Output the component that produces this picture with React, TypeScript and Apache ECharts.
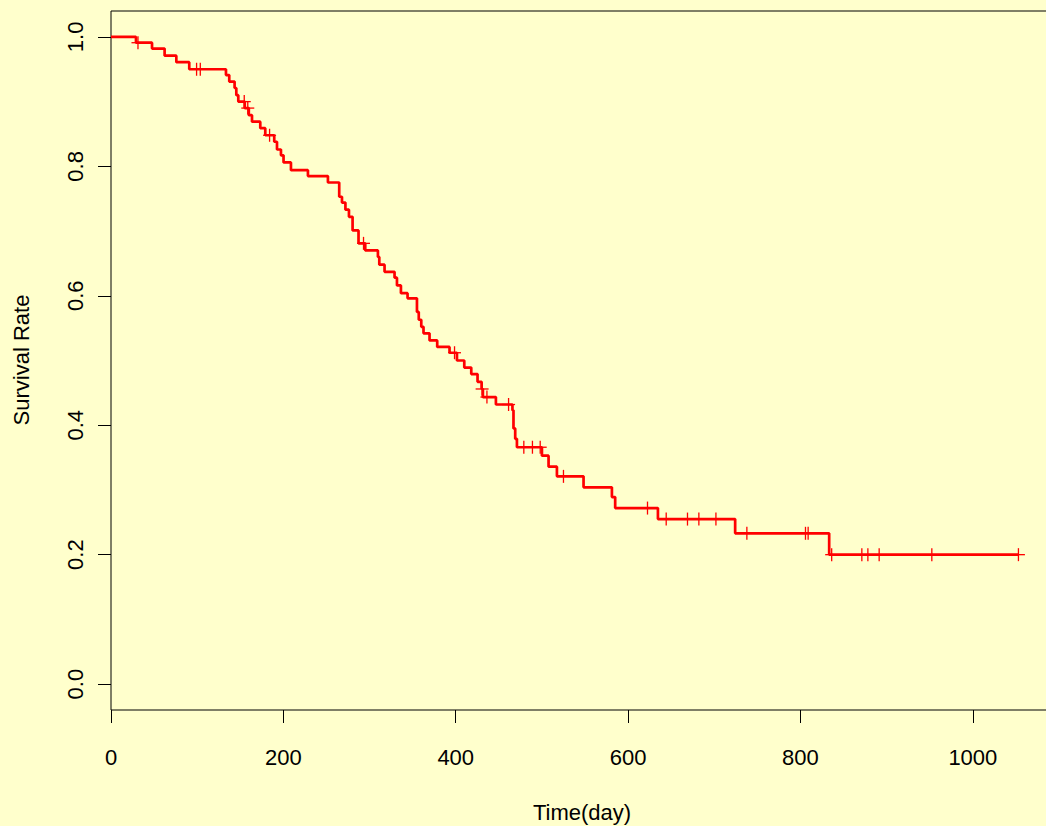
import React, { useEffect, useRef } from "react";
import * as echarts from "echarts";

// Kaplan-Meier step curve: event times (days) and survival after each event
const eventTimes = [
  0, 29, 47.6, 62.2, 75.8, 90.8, 133.4, 137.2, 143.4, 145.4, 147.7, 155.2, 159.9,
  163.6, 173.2, 179, 189.4, 192.6, 197.2, 200.2, 208.8, 228.5, 251.7, 264.8, 268,
  272, 276.1, 280.3, 287.2, 295, 309.7, 311.3, 317.4, 329, 331.8, 336.4, 344.1,
  355, 357.1, 360, 362.6, 369.6, 378.5, 392.8, 401.4, 409.9, 418, 425.3, 430,
  431.5, 446.6, 465.8, 467, 469, 471, 500, 507.7, 517.4, 548.3, 581.2, 585, 634.6,
  724.2, 833.3, 1052.9,
];
const eventSurv = [
  1.0, 0.991, 0.982, 0.971, 0.961, 0.95, 0.941, 0.931, 0.921, 0.91, 0.9, 0.89, 0.879,
  0.869, 0.859, 0.848, 0.838, 0.826, 0.817, 0.806, 0.794, 0.785, 0.775, 0.753, 0.744,
  0.733, 0.722, 0.701, 0.681, 0.67, 0.66, 0.648, 0.637, 0.628, 0.616, 0.604, 0.596,
  0.575, 0.563, 0.552, 0.542, 0.531, 0.521, 0.512, 0.5, 0.489, 0.479, 0.467, 0.456,
  0.4435, 0.432, 0.423, 0.395, 0.379, 0.366, 0.353, 0.336, 0.321, 0.304, 0.289, 0.272, 0.255,
  0.233, 0.2, 0.2,
];
// censored observation times (days)
const censorTimes = [
  31.3, 99.3, 103.6, 154.6, 158.7, 184, 293, 398.6, 430.6, 436.2, 461.3, 479, 489,
  498, 525, 622.5, 644.2, 668.9, 682.1, 701.9, 737.8, 805.8, 808.9, 836.2, 871.2,
  878.2, 891.3, 952.4, 1052.9,
];
const xTicks = [0, 200, 400, 600, 800, 1000];
const yTicks = [0, 0.2, 0.4, 0.6, 0.8, 1.0];
const xTitle = "Time(day)";
const yTitle = "Survival Rate";

const FONT = "'Liberation Sans', Arial, Helvetica, sans-serif";

function survAt(t: number): number {
  let s = eventSurv[0];
  for (let i = 0; i < eventTimes.length; i++) {
    if (eventTimes[i] <= t) s = eventSurv[i];
    else break;
  }
  return s;
}

export default function App() {
  const ref = useRef<HTMLDivElement>(null);
  useEffect(() => {
    if (!ref.current) return;
    const chart = echarts.init(ref.current, undefined, { renderer: "svg" });
    const stepData = eventTimes.map((t, i) => [t, eventSurv[i]]);
    const censorData = censorTimes.map((t) => [t, survAt(t)]);
    chart.setOption({
      animation: false,
      backgroundColor: "#FFFFCC",
      textStyle: { fontFamily: FONT },
      grid: {
        left: 111,
        top: 11,
        width: 942,
        height: 699,
        show: true,
        borderColor: "#000",
        borderWidth: 1,
        backgroundColor: "transparent",
        containLabel: false,
        outerBoundsMode: "none",
      },
      xAxis: {
        type: "value",
        min: 0,
        max: 1093,
        axisLine: { show: false, onZero: false },
        splitLine: { show: false },
        axisTick: {
          show: true,
          length: 13,
          customValues: xTicks,
          lineStyle: { color: "#000", width: 1 },
        },
        axisLabel: {
          customValues: xTicks,
          margin: 36,
          fontSize: 22,
          color: "#000",
          fontFamily: FONT,
          formatter: (v: number) => String(v),
        },
      },
      yAxis: {
        type: "value",
        min: -0.04,
        max: 1.04,
        axisLine: { show: false, onZero: false },
        splitLine: { show: false },
        axisTick: {
          show: true,
          length: 13,
          customValues: yTicks,
          lineStyle: { color: "#000", width: 1 },
        },
        axisLabel: {
          customValues: yTicks,
          rotate: 90,
          margin: 25,
          fontSize: 22,
          color: "#000",
          fontFamily: FONT,
          formatter: (v: number) => v.toFixed(1),
        },
      },
      graphic: [
        {
          type: "text",
          x: 21,
          y: 360,
          rotation: Math.PI / 2,
          style: {
            text: yTitle,
            font: `22px ${FONT}`,
            fill: "#000",
            align: "center",
            verticalAlign: "middle",
          },
        },
        {
          type: "text",
          x: 582,
          y: 812,
          style: {
            text: xTitle,
            font: `22px ${FONT}`,
            fill: "#000",
            align: "center",
            verticalAlign: "middle",
          },
        },
      ],
      series: [
        {
          type: "line",
          step: "end",
          data: stepData,
          showSymbol: false,
          symbol: "none",
          lineStyle: { color: "#FF0000", width: 2.7 },
          silent: true,
        },
        {
          type: "custom",
          data: censorData,
          silent: true,
          clip: false,
          renderItem: (params: any, api: any) => {
            const p = api.coord([api.value(0), api.value(1)]);
            const h = 6.5;
            const st = { stroke: "#FF0000", lineWidth: 1.3 };
            return {
              type: "group",
              children: [
                { type: "line", shape: { x1: p[0] - h, y1: p[1], x2: p[0] + h, y2: p[1] }, style: st },
                { type: "line", shape: { x1: p[0], y1: p[1] - h, x2: p[0], y2: p[1] + h }, style: st },
              ],
            };
          },
        },
      ],
    });
    return () => chart.dispose();
  }, []);
  return (
    <div
      ref={ref}
      style={{ position: "fixed", left: 0, top: 0, width: 1046, height: 826 }}
    />
  );
}
